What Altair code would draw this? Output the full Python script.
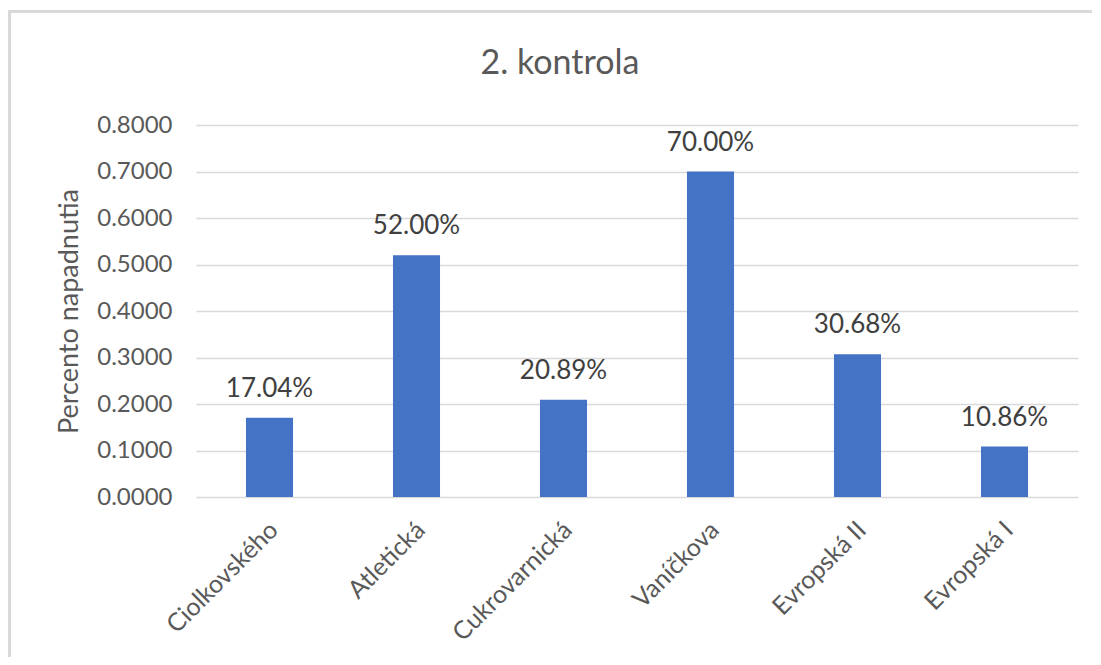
import altair as alt
import pandas as pd

categories = ["Ciolkovského", "Atletická", "Cukrovarnická", "Vaníčkova", "Evropská II", "Evropská I"]
values = [0.1704, 0.52, 0.2089, 0.70, 0.3068, 0.1086]

df = pd.DataFrame({"kat": categories, "val": values})

FONT = "Lato"
TXT = "#595959"

x = alt.X("kat:N", sort=categories, title=None,
          scale=alt.Scale(paddingInner=0.68, paddingOuter=0.34),
          axis=alt.Axis(labelAngle=-45, labelFontSize=25, labelColor=TXT, labelFont=FONT,
                        labelPadding=20, labelOffset=-4, ticks=False, domain=False, grid=False))
y = alt.Y("val:Q", title="Percento napadnutia",
          scale=alt.Scale(domain=[0, 0.8], nice=False),
          axis=alt.Axis(format=".4f", values=[0, 0.1, 0.2, 0.3, 0.4, 0.5, 0.6, 0.7, 0.8],
                        labelFontSize=24, labelColor=TXT, labelFont=FONT, labelPadding=24,
                        ticks=False, domain=False, gridColor="#d9d9d9", gridWidth=1.5,
                        titleFontSize=27, titleColor=TXT, titleFont=FONT, titleFontWeight="normal",
                        titlePadding=13))

base = alt.Chart(df)
bars = base.mark_bar(color="#4472C4").encode(x=x, y=y)
labels = base.mark_text(baseline="bottom", dy=-16, fontSize=26, font=FONT, color="#404040").encode(
    x=alt.X("kat:N", sort=categories), y="val:Q", text=alt.Text("val:Q", format=".2%"))

frame = alt.Chart(df).mark_rect(fill=None, stroke="#d9d9d9", strokeWidth=3).encode(
    x=alt.value(-186.5), x2=alt.value(1000), y=alt.value(-113.5), y2=alt.value(700))

chart = alt.layer(frame, bars, labels).properties(
    width=882, height=372,
    title=alt.TitleParams("2. kontrola", fontSize=34, font=FONT, color=TXT, fontWeight="normal",
                          anchor="middle", offset=-71, dx=-77),
    autosize=alt.AutoSizeParams(type="none"),
    padding={"left": 188, "top": 117, "right": 14, "bottom": 160},
).configure(background="white").configure_view(stroke=None)

chart.save("out.html", embed_options={"renderer": "svg", "actions": False})
